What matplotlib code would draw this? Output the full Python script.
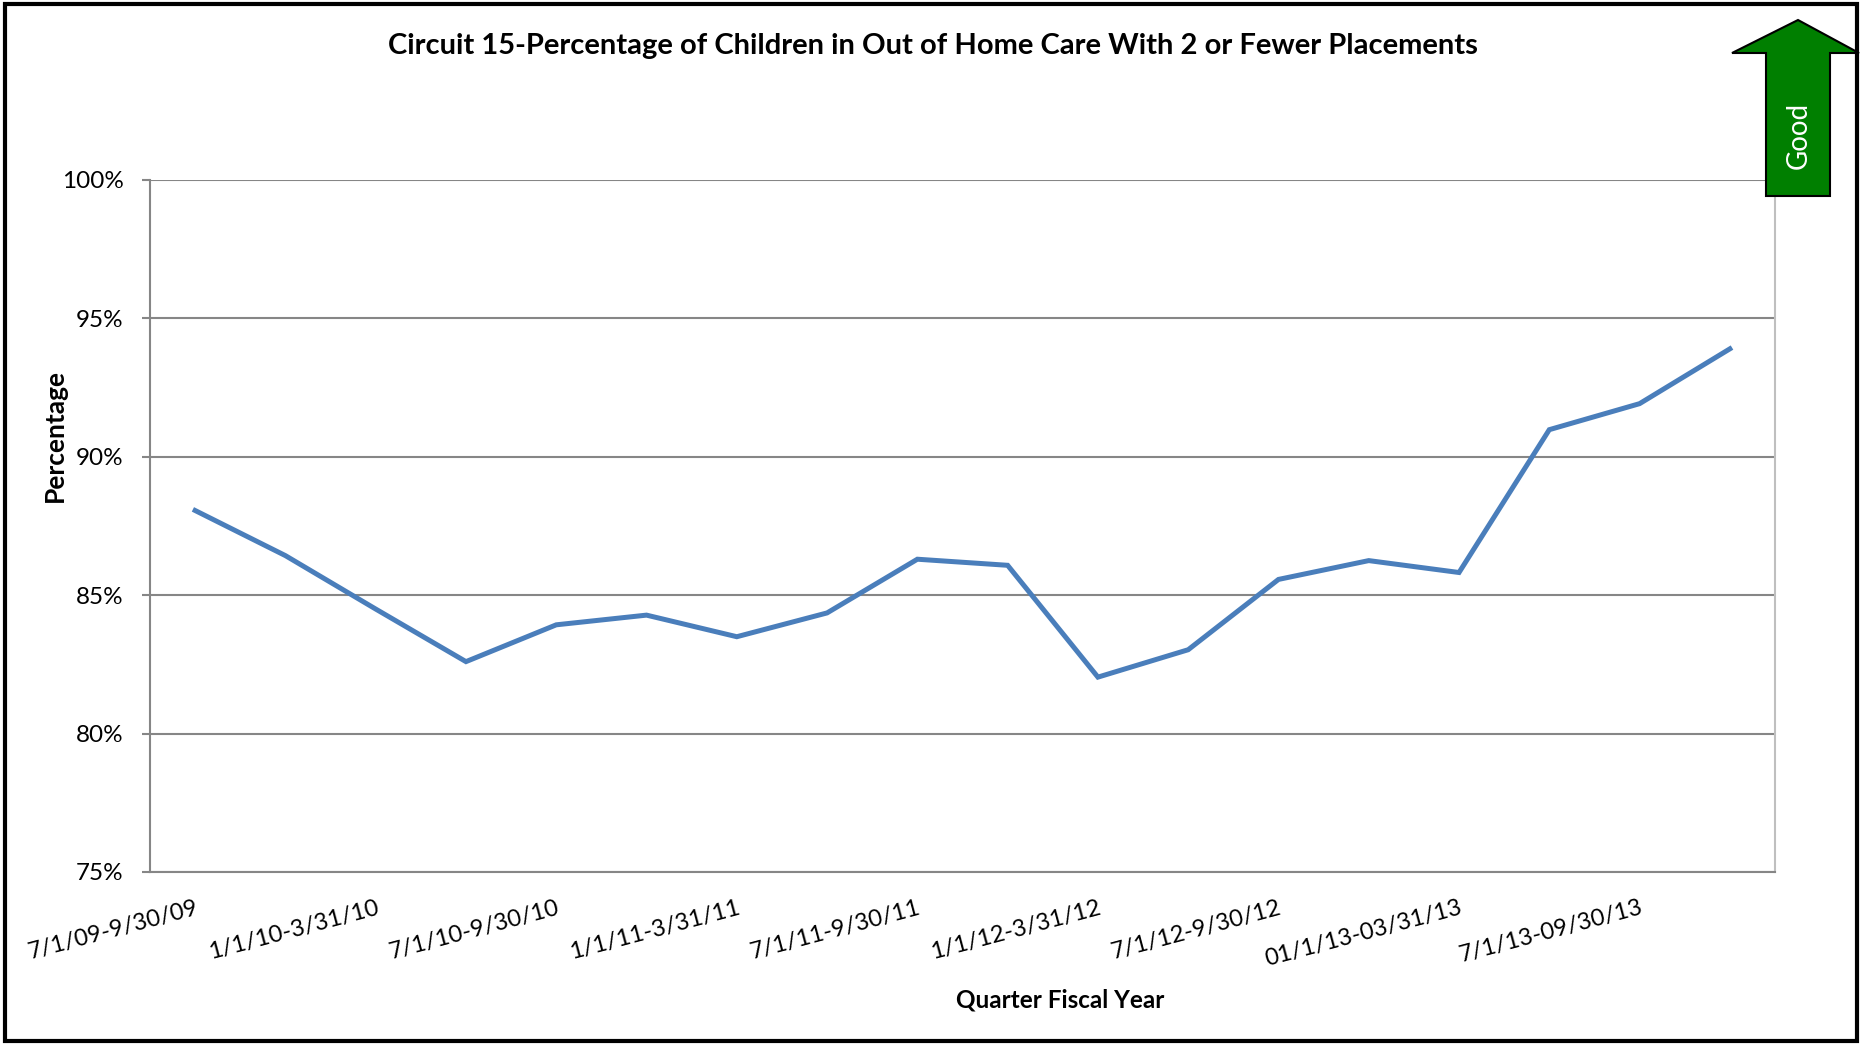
import matplotlib
matplotlib.use("Agg")
import matplotlib.pyplot as plt
from matplotlib.patches import Polygon, Rectangle
from matplotlib.ticker import FuncFormatter

plt.rcParams['font.family'] = ['Lato', 'DejaVu Sans']

W, H = 1862, 1044

quarters = ["7/1/09-9/30/09", "10/1/09-12/31/09",
            "1/1/10-3/31/10", "4/1/10-6/30/10",
            "7/1/10-9/30/10", "10/1/10-12/31/10",
            "1/1/11-3/31/11", "4/1/11-6/30/11",
            "7/1/11-9/30/11", "10/1/11-12/31/11",
            "1/1/12-3/31/12", "4/1/12-6/30/12",
            "7/1/12-9/30/12", "10/1/12-12/31/12",
            "01/1/13-03/31/13", "4/1/13-6/30/13",
            "7/1/13-09/30/13", "10/1/13-12/31/13"]
pct = [88.06, 86.43, 84.5, 82.6, 83.93, 84.28, 83.5, 84.36, 86.3,
       86.08, 82.04, 83.03, 85.57, 86.25, 85.82, 90.98, 91.92, 93.9]
yticks = [75, 80, 85, 90, 95, 100]

def fx(px):
    return px / W

def fy(py):
    return 1 - py / H

fig = plt.figure(figsize=(W / 100, H / 100), dpi=100)
ax = fig.add_axes([fx(150), fy(872), fx(1775) - fx(150), fy(180) - fy(872)])

x = list(range(len(quarters)))
ax.plot(x, pct, color="#4A7EBB", lw=3.6, solid_joinstyle="miter", zorder=3)

ax.set_xlim(-0.5, len(quarters) - 0.5)
ax.set_ylim(75, 100)
ax.set_yticks(yticks)
ax.yaxis.set_major_formatter(FuncFormatter(lambda v, p: "%d%%" % v))
ax.grid(axis="y", color="#868686", lw=1.5)
ax.set_axisbelow(True)
ax.tick_params(axis="y", length=6, width=1.5, color="#868686", pad=13, labelsize=17.5)
ax.tick_params(axis="x", length=0, pad=18, labelsize=17)
ax.set_xticks(x[::2])
ax.set_xticklabels(quarters[::2], rotation=15, ha="right", va="top",
                   rotation_mode="anchor")
for s in ["left", "bottom"]:
    ax.spines[s].set_color("#868686")
    ax.spines[s].set_linewidth(1.5)
ax.spines["right"].set_color("#BFBFBF")
ax.spines["right"].set_linewidth(1.5)
ax.spines["top"].set_visible(False)

fig.text(fx(933), fy(46), "Circuit 15-Percentage of Children in Out of Home Care With 2 or Fewer Placements",
         ha="center", va="center", fontsize=21, fontweight="bold")
fig.text(fx(1060), fy(1000), "Quarter Fiscal Year", ha="center", va="center",
         fontsize=17.5, fontweight="bold")
fig.text(fx(55), fy(436), "Percentage", ha="center", va="center", rotation=90,
         fontsize=19, fontweight="bold")

# "Good" arrow, top right
arrow = [(1798, 20), (1859, 53), (1830, 53), (1830, 196),
         (1766, 196), (1766, 53), (1732, 53)]
fig.patches.append(Polygon([(fx(a), fy(b)) for a, b in arrow], closed=True,
                           transform=fig.transFigure, facecolor="#007F00",
                           edgecolor="black", lw=1.5, zorder=5))
fig.text(fx(1799), fy(135), "Good", color="white", rotation=90, ha="center",
         va="center", fontsize=20, zorder=6)

# outer border
fig.patches.append(Rectangle((fx(5), fy(1041)), fx(1857) - fx(5), fy(4) - fy(1041),
                             transform=fig.transFigure, fill=False,
                             edgecolor="black", lw=3, zorder=7))

fig.savefig("out.png", dpi=100)
